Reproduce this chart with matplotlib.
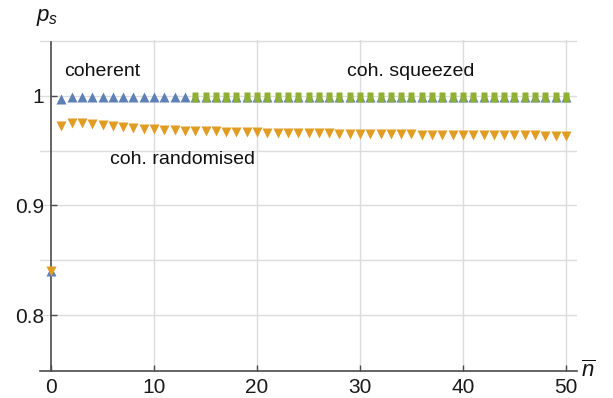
import matplotlib
matplotlib.use("Agg")
import matplotlib.pyplot as plt
import numpy as np

plt.rcParams['font.family'] = ['Liberation Sans', 'DejaVu Sans']
plt.rcParams['mathtext.fontset'] = 'custom'
plt.rcParams['mathtext.it'] = 'Liberation Sans:italic'
plt.rcParams['mathtext.rm'] = 'Liberation Sans'

# Data
n_coherent = list(range(0, 51))
p_coherent = [0.840, 0.997] + [0.999] * 49

n_squeezed = list(range(14, 51))
p_squeezed = [0.999] * 37

n_random = list(range(0, 51))
p_random = [0.840, 0.9729, 0.9756, 0.9749, 0.9740, 0.9730, 0.9721, 0.9714, 0.9708, 0.9701,
            0.9696, 0.9692, 0.9688, 0.9684, 0.9681, 0.9678, 0.9676, 0.9674, 0.9672, 0.9670,
            0.9668, 0.9666, 0.9664, 0.9663, 0.9661, 0.9660, 0.9658, 0.9657, 0.9656, 0.9654,
            0.9653, 0.9652, 0.9651, 0.9650, 0.9649, 0.9648, 0.9647, 0.9646, 0.9645, 0.9645,
            0.9644, 0.9643, 0.9642, 0.9642, 0.9641, 0.9640, 0.9640, 0.9639, 0.9638, 0.9638,
            0.9637]

x_ticks = [0, 10, 20, 30, 40, 50]
y_ticks = [0.8, 0.9, 1.0]
y_ticklabels = ["0.8", "0.9", "1"]
x_grid = [10, 20, 30, 40, 50]
y_grid = [0.8, 0.85, 0.9, 0.95, 1.0, 1.05]

blue = '#5E81B5'
orange = '#E19C24'
green = '#8FB032'
axcol = '#4a4a4a'
gridcol = '#dcdcdc'

fig = plt.figure(figsize=(6.13, 3.98), dpi=100)
ax = fig.add_axes([40/613, 27/398, 537/613, 331/398])
ax.set_xlim(-1.07, 51.07)
ax.set_ylim(0.749, 1.051)

for g in x_grid:
    ax.axvline(g, color=gridcol, lw=1.0, zorder=0)
for g in y_grid:
    ax.axhline(g, color=gridcol, lw=1.0, zorder=0)

ax.plot(n_coherent, p_coherent, linestyle='none', marker='^', ms=6.8, color=blue, mec='none', zorder=3)
rect = [(-2, -3), (2, -3), (2, 3), (-2, 3), (-2, -3)]
ax.plot(n_squeezed, p_squeezed, linestyle='none', marker=rect, ms=7.5, color=green, mec='none', zorder=4)
ax.plot(n_random, p_random, linestyle='none', marker='v', ms=6.8, color=orange, mec='none', zorder=3)

for s in ['top', 'right']:
    ax.spines[s].set_visible(False)
ax.spines['left'].set_position(('data', 0))
ax.spines['left'].set_bounds(0.749, 1.049)
ax.spines['left'].set_color(axcol)
ax.spines['bottom'].set_color(axcol)
ax.spines['left'].set_linewidth(1.2)
ax.spines['bottom'].set_linewidth(1.2)

ax.set_xticks(x_ticks)
ax.set_xticklabels([str(t) for t in x_ticks])
ax.set_yticks(y_ticks)
ax.set_yticklabels(y_ticklabels)
ax.tick_params(axis='both', direction='in', length=4.5, width=1.0, color=axcol,
               labelsize=15, labelcolor='#1a1a1a')
ax.tick_params(axis='x', pad=5)
ax.tick_params(axis='y', pad=5)

ax.text(5, 1.022, 'coherent', fontsize=14, ha='center', va='center', color='#111111')
ax.text(34.9, 1.022, 'coh. squeezed', fontsize=14, ha='center', va='center', color='#111111')
ax.text(12.8, 0.9416, 'coh. randomised', fontsize=14, ha='center', va='center', color='#111111')

fig.text(47/613, 1 - 17/398, r'$p_s$', fontsize=16, ha='center', va='center', color='#111111')
fig.text(588/613, 1 - 371/398, r'$\overline{n}$', fontsize=16, ha='center', va='center', color='#111111')

fig.savefig('out.png', dpi=100)
